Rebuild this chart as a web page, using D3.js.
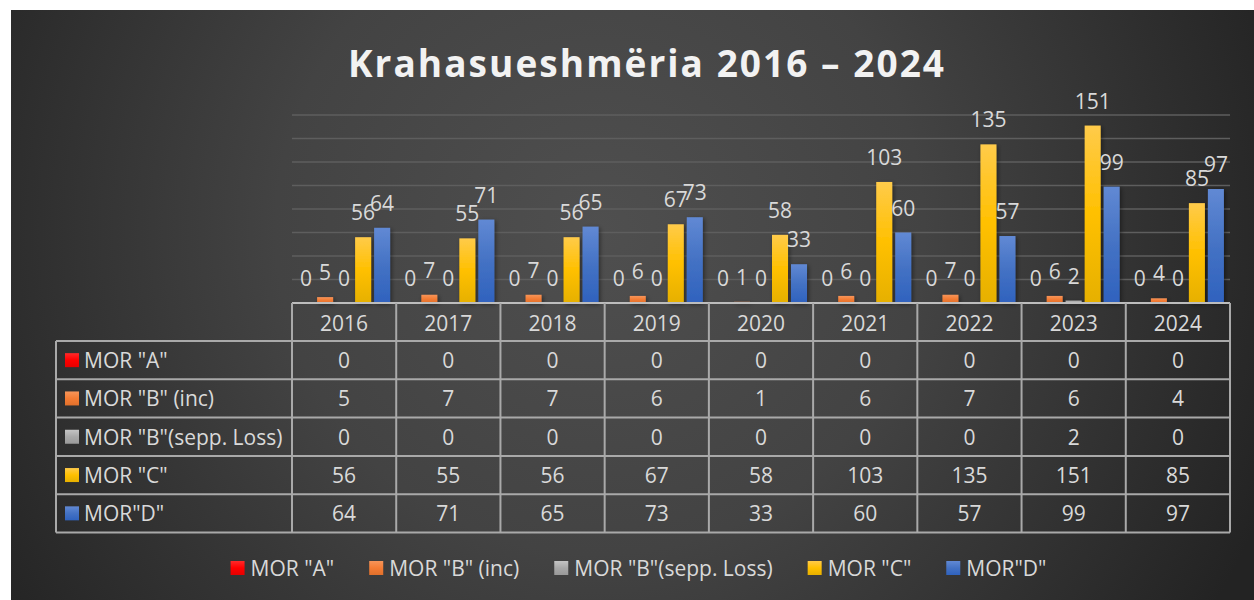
<!DOCTYPE html>
<html><head><meta charset="utf-8">
<script src="https://cdn.jsdelivr.net/npm/d3@7"></script>
<style>html,body{margin:0;padding:0;background:#fff;}svg{display:block;font-family:"Open Sans",sans-serif;}</style>
</head><body>
<script>
const years = ["2016","2017","2018","2019","2020","2021","2022","2023","2024"];
const seriesNames = ['MOR "A"', 'MOR "B" (inc)', 'MOR "B"(sepp. Loss)', 'MOR "C"', 'MOR"D"'];
const morA = [0,0,0,0,0,0,0,0,0];
const morBInc = [5,7,7,6,1,6,7,6,4];
const morBSepp = [0,0,0,0,0,0,0,2,0];
const morC = [56,55,56,67,58,103,135,151,85];
const morD = [64,71,65,73,33,60,57,99,97];
const yTicks = [0,20,40,60,80,100,120,140,160];
const titleText = "Krahasueshmëria 2016 – 2024";

const seriesValues = [morA, morBInc, morBSepp, morC, morD];
const fills = ["url(#gRed)","url(#gOrange)","url(#gGray)","url(#gYellow)","url(#gBlue)"];

const W = 1254, H = 600;
const svg = d3.select("body").append("svg").attr("width", W).attr("height", H);
const defs = svg.append("defs");

const bg = defs.append("radialGradient").attr("id","bg").attr("gradientUnits","userSpaceOnUse")
  .attr("cx",600).attr("cy",230).attr("r",720);
bg.append("stop").attr("offset","0%").attr("stop-color","#4f4f4f");
bg.append("stop").attr("offset","45%").attr("stop-color","#434343");
bg.append("stop").attr("offset","100%").attr("stop-color","#232323");

function lin(id, c1, c2, c3){
  const g = defs.append("linearGradient").attr("id",id).attr("x1",0).attr("y1",0).attr("x2",0).attr("y2",1);
  g.append("stop").attr("offset","0%").attr("stop-color",c1);
  g.append("stop").attr("offset","50%").attr("stop-color",c2);
  g.append("stop").attr("offset","100%").attr("stop-color",c3);
}
lin("gRed","#ff2a2a","#ff0000","#e60000");
lin("gOrange","#f6955a","#f47c34","#e0702c");
lin("gGray","#c4c4c4","#a8a8a8","#999999");
lin("gYellow","#ffcb4a","#ffc000","#e6b000");
lin("gBlue","#6189d4","#4472c4","#2f62be");

const sh = defs.append("filter").attr("id","shadow").attr("x","-30%").attr("y","-10%").attr("width","160%").attr("height","130%");
sh.append("feDropShadow").attr("dx",1.5).attr("dy",1.5).attr("stdDeviation",2).attr("flood-color","#000").attr("flood-opacity",0.45);

svg.append("rect").attr("x",11).attr("y",10).attr("width",W-11).attr("height",H-10).attr("fill","url(#bg)");

// title
svg.append("text").attr("x",348).attr("y",77).attr("textLength",596).attr("lengthAdjust","spacing")
  .attr("font-size",37).attr("font-weight","bold").attr("fill","#f2f2f2").text(titleText);

// scales
const x = d3.scaleBand().domain(years).range([292,1230]).paddingInner(0).paddingOuter(0);
const xs = d3.scaleBand().domain(d3.range(seriesNames.length)).range([0,x.bandwidth()])
  .paddingInner(3/19).paddingOuter(0.321);
const y = d3.scaleLinear().domain([0,160]).range([303,115]);

// gridlines
svg.append("g").selectAll("line").data(yTicks.filter(t=>t>0)).join("line")
  .attr("x1",292).attr("x2",1230).attr("y1",d=>y(d)).attr("y2",d=>y(d))
  .attr("stroke","#5e5e5e").attr("stroke-width",1.5);

// bars
const gBars = svg.append("g").attr("filter","url(#shadow)");
seriesValues.forEach((vals,si)=>{
  gBars.append("g").selectAll("rect").data(vals.map((v,i)=>({v,i}))).join("rect")
    .attr("x",d=>x(years[d.i])+xs(si)).attr("width",xs.bandwidth())
    .attr("y",d=>y(d.v)).attr("height",d=>y(0)-y(d.v))
    .attr("fill",fills[si]);
});
// labels
seriesValues.forEach((vals,si)=>{
  svg.append("g").selectAll("text").data(vals.map((v,i)=>({v,i}))).join("text")
    .attr("x",d=>x(years[d.i])+xs(si)+xs.bandwidth()/2).attr("y",d=>y(d.v)-17)
    .attr("text-anchor","middle").attr("font-size",21).attr("fill","#d9d9d9")
    .text(d=>d.v);
});

// table
const rowTop = 341, rowH = 38.3, tableLeft = 56;
const lineCol = "#a9a9a9";
const tbl = svg.append("g");
tbl.append("line").attr("x1",292).attr("x2",1230).attr("y1",y(0)).attr("y2",y(0)).attr("stroke","#bdbdbd").attr("stroke-width",2);
d3.range(seriesNames.length+1).forEach(r=>{
  tbl.append("line").attr("x1",tableLeft).attr("x2",1230).attr("y1",rowTop+r*rowH).attr("y2",rowTop+r*rowH)
    .attr("stroke",lineCol).attr("stroke-width",2);
});
const bounds = years.map(yv=>x(yv)).concat([x.range()[1]]);
tbl.selectAll("line.v").data(bounds).join("line").attr("class","v")
  .attr("x1",d=>d).attr("x2",d=>d).attr("y1",y(0)).attr("y2",rowTop+seriesNames.length*rowH)
  .attr("stroke",lineCol).attr("stroke-width",2);
tbl.append("line").attr("x1",tableLeft).attr("x2",tableLeft).attr("y1",rowTop).attr("y2",rowTop+seriesNames.length*rowH)
  .attr("stroke",lineCol).attr("stroke-width",2);
tbl.selectAll("text.yr").data(years).join("text").attr("class","yr")
  .attr("x",d=>x(d)+x.bandwidth()/2).attr("y",(y(0)+rowTop)/2+1).attr("dominant-baseline","central")
  .attr("text-anchor","middle").attr("font-size",21).attr("fill","#d9d9d9").text(d=>d);
seriesNames.forEach((name,si)=>{
  const cy = rowTop + si*rowH + rowH/2;
  tbl.append("rect").attr("x",65).attr("y",cy-7).attr("width",14).attr("height",14).attr("fill",fills[si]);
  tbl.append("text").attr("x",84).attr("y",cy).attr("dominant-baseline","central")
    .attr("font-size",21).attr("fill","#d9d9d9").text(name);
  tbl.append("g").selectAll("text").data(seriesValues[si]).join("text")
    .attr("x",(d,i)=>x(years[i])+x.bandwidth()/2).attr("y",cy).attr("dominant-baseline","central")
    .attr("text-anchor","middle").attr("font-size",21).attr("fill","#d9d9d9").text(d=>d);
});

// legend
const leg = svg.append("g");
const items = seriesNames.map((n,i)=>{
  const g = leg.append("g");
  g.append("rect").attr("x",0).attr("y",-7).attr("width",14).attr("height",14).attr("fill",fills[i]);
  const t = g.append("text").attr("x",20).attr("y",0).attr("dominant-baseline","central")
    .attr("font-size",21).attr("fill","#d9d9d9").text(n);
  return {g, w: 20 + t.node().getComputedTextLength()};
});
const gap = 35;
const total = d3.sum(items,d=>d.w) + gap*(items.length-1);
let cx = 638.5 - total/2;
items.forEach(it=>{ it.g.attr("transform",`translate(${cx},568)`); cx += it.w + gap; });
</script>
</body></html>
